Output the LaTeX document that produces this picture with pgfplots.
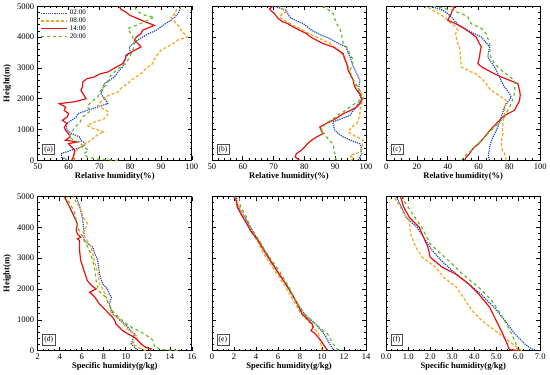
\documentclass[border=0pt]{standalone}
\usepackage{pgfplots}
\pgfplotsset{compat=1.18}
\usepgfplotslibrary{groupplots}
\usepackage{fontspec}
\setmainfont{Liberation Serif}
\definecolor{cblue}{RGB}{30,75,195}
\definecolor{corange}{RGB}{248,165,25}
\definecolor{cred}{RGB}{228,20,20}
\definecolor{cgreen}{RGB}{100,185,40}
\pgfplotsset{
  blu/.style={color=cblue, line width=1.2pt, densely dotted},
  ora/.style={color=corange, line width=1.2pt, densely dashed},
  rd/.style={color=cred, line width=1.2pt, solid},
  grn/.style={color=cgreen, line width=1.2pt, dashed},
}
\newcommand{\plabel}[1]{\node[draw=black!70, line width=0.5pt, fill=white, inner sep=1.8pt, font=\fontsize{7.5}{8}\selectfont, anchor=south west] at (rel axis cs:0.03,0.035) {#1};}
\begin{document}
\begin{tikzpicture}
\begin{groupplot}[
  group style={group size=3 by 2, horizontal sep=20pt, vertical sep=36pt, y descriptions at=edge left},
  width=153pt, height=153pt, scale only axis,
  ymin=0, ymax=5000, ytick={0,1000,...,5000}, minor y tick num=4,
  tick align=inside, major tick length=4pt, minor tick length=2pt,
  tick style={black, line width=0.6pt},
  axis line style={line width=0.8pt},
  /pgf/number format/assume math mode=true,
  /pgf/number format/set thousands separator={},
  ticklabel style={font=\fontsize{8.5}{9}\selectfont},
  label style={font=\fontsize{8.5}{9}\selectfont\bfseries},
  xlabel style={yshift=4pt},
  ylabel style={yshift=-1pt},
  ylabel={Height(m)},
]
% (a)
\nextgroupplot[xmin=50, xmax=100, xtick={50,60,...,100}, minor x tick num=4,
  xlabel={Relative humidity(\%)},
  legend style={at={(0.01,0.995)}, anchor=north west, draw=none, fill=none, font=\fontsize{7}{7}\selectfont, row sep=-2.5pt, inner sep=1pt},
  legend cell align=left,
  legend image code/.code={\draw[#1] plot coordinates {(0pt,0pt) (13pt,0pt) (26pt,0pt)};}]
\addplot[blu] coordinates {(60,0)(57.8,100)(57.6,216)(61,330)(64.5,433)(65.5,540)(64,650)(63.5,760)(61,870)(59.5,980)(59.2,1190)(61,1300)(62.5,1407)(63,1515)(66,1620)(69.5,1730)(72.7,1840)(72,1950)(70.5,2160)(71,2300)(71.6,2490)(74.9,2705)(76,2870)(77.6,3030)(78,3200)(78.6,3355)(80,3500)(79.7,3680)(81,3790)(82.4,3900)(84,4000)(86,4110)(88.4,4220)(90,4330)(91.5,4440)(93.2,4545)(94.5,4650)(95.5,4760)(96,4870)(96.5,5000)};
\addlegendentry{02:00}
\addplot[ora] coordinates {(62,0)(61.4,108)(62,216)(62.5,325)(64,432)(65.5,540)(67.3,650)(68.5,760)(70,866)(71.6,920)(68,1030)(66,1135)(68.5,1244)(71.6,1350)(72.5,1460)(73,1570)(71,1680)(69.5,1785)(70.5,1900)(71.6,2000)(73,2110)(76,2215)(77.5,2380)(79.2,2490)(81,2650)(83.5,2815)(85,2970)(87.3,3140)(88,3300)(89,3450)(90,3570)(92,3680)(94,3790)(95.4,3900)(98.6,4005)(97.5,4110)(96.5,4220)(96,4330)(95,4440)(94,4545)(93.2,4650)(94.5,4760)(95,4870)(94.8,5000)};
\addlegendentry{08:00}
\addplot[rd] coordinates {(61,0)(61.5,108)(61.8,216)(62,325)(61,433)(60,540)(63,600)(59,650)(60.5,760)(60,865)(59,975)(58.6,1080)(59.5,1190)(58,1300)(59.5,1400)(60,1515)(58.6,1620)(59,1730)(57,1840)(62,1900)(65.7,2000)(65,2110)(64,2270)(64.5,2380)(64.6,2540)(66,2650)(68.4,2705)(70,2800)(72.7,2865)(75,3000)(77.6,3140)(78.5,3300)(78.6,3410)(81,3550)(83.5,3680)(82.5,3790)(81.4,3900)(82,4000)(83.5,4110)(84,4220)(87.8,4380)(85,4490)(82.4,4600)(80,4700)(78.6,4810)(77,4900)(76.5,5000)};
\addlegendentry{14:00}
\addplot[grn] coordinates {(76,0)(70,30)(66,108)(65,216)(66.5,325)(65,432)(64,540)(62,650)(60,760)(61,870)(61.4,975)(62,1080)(63.5,1190)(64,1300)(64.6,1405)(66,1515)(67.3,1620)(66,1730)(66.8,1840)(68,1950)(69.5,2050)(70,2160)(70.5,2270)(71.5,2380)(72.7,2490)(73,2650)(74.3,2815)(76,2970)(78.6,3140)(79.5,3300)(80.3,3460)(81,3620)(81.4,3790)(80.8,4005)(80,4150)(79.2,4275)(82,4380)(84.6,4490)(86,4560)(87.8,4650)(85,4700)(83.5,4760)(82,4870)(81.4,5000)};
\addlegendentry{20:00}
\plabel{(a)}
% (b)
\nextgroupplot[xmin=50, xmax=100, xtick={50,60,...,100}, minor x tick num=4,
  xlabel={Relative humidity(\%)}]
\addplot[blu] coordinates {(97.5,0)(98,108)(98.6,216)(98.3,325)(98.5,432)(98,540)(95,650)(92.6,760)(91,866)(89.9,975)(89.5,1080)(89.3,1190)(89.3,1245)(92,1350)(94.8,1460)(95.5,1570)(96.4,1675)(97.5,1840)(98.6,1950)(98,2110)(97.5,2270)(97.8,2440)(98,2600)(97,2810)(95.9,3030)(95.3,3200)(94.8,3355)(94,3520)(93.7,3680)(91,3790)(88.3,3950)(85.5,4060)(82.3,4220)(81,4330)(79.6,4440)(77,4545)(75.2,4650)(74.6,4760)(74.1,4870)(70.3,5000)};
\addplot[ora] coordinates {(95,0)(96,54)(94.8,160)(97,216)(98.6,325)(98.8,432)(98.9,540)(99.1,650)(97,760)(95,866)(94.2,920)(95,1030)(96,1135)(97,1190)(97.5,1300)(97.8,1405)(98,1515)(98.2,1680)(98.6,1840)(99.1,2050)(98.5,2160)(97.8,2270)(97,2380)(96,2540)(95.3,2705)(94.7,2860)(94.2,3030)(93.5,3200)(93.1,3355)(91,3570)(88.3,3790)(86,3900)(83.9,4005)(81.5,4110)(79.6,4220)(77.5,4330)(75.2,4440)(73.5,4545)(71.9,4650)(73,4760)(74.1,4810)(73,4900)(71.9,5000)};
\addplot[rd] coordinates {(78.5,0)(77,108)(77.4,216)(79,325)(80.1,432)(81,540)(82.3,650)(84,760)(86,865)(85.5,975)(85,1080)(87,1190)(89.3,1300)(91,1405)(92.6,1515)(95,1620)(97,1730)(98,1840)(98.6,1950)(98.5,2050)(98,2160)(97,2270)(96.4,2380)(96,2490)(95.9,2600)(95,2760)(94.2,2920)(94,3030)(93.7,3140)(93,3300)(92.6,3460)(91,3570)(89.3,3680)(86,3790)(83.9,3900)(82,4000)(80.7,4110)(78.5,4220)(76.3,4330)(74.5,4440)(73,4490)(71.5,4600)(70.3,4760)(69,4870)(68.7,4920)(69.8,5000)};
\addplot[grn] coordinates {(90.4,0)(90,108)(89.9,216)(89.5,325)(89.5,433)(89.3,540)(88,650)(87.2,760)(86.5,866)(85,975)(86.1,1030)(86.5,1136)(87.5,1244)(88.8,1300)(90,1407)(91.5,1515)(92.6,1570)(94,1680)(96.4,1840)(98.6,2000)(98.5,2164)(98,2270)(97,2440)(95.9,2600)(95.2,2760)(94.8,2920)(95.5,3080)(95.9,3250)(95,3400)(94.2,3570)(93.5,3680)(92.6,3790)(92.3,3950)(92,4110)(91.5,4270)(90.4,4440)(89.8,4600)(89.3,4760)(88,4870)(86.1,5000)};
\plabel{(b)}
% (c)
\nextgroupplot[xmin=0, xmax=100, xtick={0,20,...,100}, minor x tick num=3,
  xlabel={Relative humidity(\%)}]
\addplot[blu] coordinates {(67.1,0)(66.5,108)(66.5,216)(67,325)(67.1,432)(67.8,540)(68.5,650)(69.3,760)(71,920)(72.5,1080)(73.5,1244)(74.7,1405)(75.8,1570)(76.8,1730)(79,1894)(81.2,2056)(80,2164)(78.5,2272)(76.8,2381)(75,2543)(73.6,2705)(72,2867)(70.3,3030)(68,3192)(66,3355)(66.5,3517)(67.1,3679)(64.5,3842)(61.7,4004)(55,4166)(48.7,4329)(45,4491)(42.2,4653)(40,4762)(36.8,4870)(32,4950)(28.1,5000)};
\addplot[ora] coordinates {(77.9,0)(77.5,108)(76.8,216)(75.5,325)(75,433)(74.7,541)(75,700)(75.8,866)(75.5,1030)(75.8,1190)(76,1350)(76.8,1515)(77,1731)(77.9,1948)(73,2110)(68.2,2272)(66,2381)(64.9,2489)(63,2597)(60.6,2705)(58,2813)(55.2,2867)(52,2950)(48.7,3030)(48.5,3192)(48.3,3355)(48,3517)(47.6,3679)(46,3842)(45.5,4004)(45,4112)(46.5,4220)(45,4329)(42.2,4437)(40,4545)(37.9,4653)(34,4762)(30.3,4870)(26,5000)};
\addplot[rd] coordinates {(50.9,0)(52,108)(54.1,216)(55.5,325)(57.4,433)(60,541)(62,650)(63.9,757)(66.5,920)(69.3,1082)(72.5,1244)(75.8,1407)(79,1515)(83.3,1623)(85,1785)(86.6,1948)(87,2110)(86.6,2272)(86,2381)(85.5,2489)(80,2600)(74.7,2705)(70,2813)(66,2922)(62,3030)(59.5,3138)(60,3246)(60.6,3355)(61,3517)(61.7,3679)(60,3842)(58.4,4004)(54,4166)(50.9,4274)(45,4437)(40,4545)(41,4653)(42.2,4762)(43,4870)(44.4,4978)(42,5000)};
\addplot[grn] coordinates {(48.7,0)(51.5,160)(55.2,325)(60,540)(63.9,757)(67,920)(70.3,1082)(73.5,1244)(76.8,1407)(79,1623)(81.2,1840)(82.3,2000)(83.3,2164)(83.5,2381)(83.3,2597)(79,2760)(74.7,2922)(72.5,3030)(70.3,3138)(68.5,3300)(67.1,3463)(67.5,3625)(67.1,3788)(66,3950)(64.9,4112)(62,4274)(55.2,4437)(54,4545)(53,4653)(49,4762)(42.2,4870)(36,4950)(30.3,5000)};
\plabel{(c)}
% (d)
\nextgroupplot[xmin=2, xmax=16, xtick={2,4,...,16}, minor x tick num=3,
  xlabel={Specific humidity(g/kg)}]
\addplot[blu] coordinates {(11.1,0)(10.8,108)(10.5,216)(10.6,325)(10.7,433)(10.8,541)(10.4,650)(10.2,757)(9.9,866)(9.5,975)(9.2,1082)(8.8,1190)(8.7,1298)(8.6,1407)(8.5,1515)(8.6,1623)(8.7,1731)(8.5,1840)(8.4,1948)(8.2,2056)(7.9,2164)(7.8,2272)(7.7,2381)(7.6,2489)(7.55,2650)(7.5,2813)(7.4,2975)(7.2,3138)(7.1,3246)(7.0,3355)(6.6,3463)(6.2,3571)(6.2,3679)(6.2,3896)(6.15,4004)(6.1,4220)(6.0,4400)(5.9,4545)(5.8,4700)(5.6,4870)(5.6,5000)};
\addplot[ora] coordinates {(11.8,0)(11.4,54)(10.9,162)(10.6,216)(10.8,325)(11.1,433)(10.8,541)(10.3,649)(10.0,757)(9.8,866)(9.6,974)(9.2,1082)(8.7,1190)(8.6,1298)(8.6,1407)(8.5,1515)(8.3,1623)(8.2,1731)(8.1,1840)(7.9,2002)(7.6,2164)(7.55,2326)(7.5,2489)(7.35,2650)(7.2,2813)(7.1,2975)(7.0,3138)(6.9,3300)(6.7,3463)(6.5,3571)(6.3,3679)(6.1,3788)(6.2,3896)(6.4,4004)(6.5,4112)(6.35,4220)(6.1,4329)(6.0,4491)(5.8,4653)(5.5,4816)(5.2,5000)};
\addplot[rd] coordinates {(12.2,0)(12.3,54)(11.8,108)(11.4,216)(11.1,325)(10.8,433)(10.2,541)(9.7,650)(9.4,757)(9.1,866)(9.0,975)(8.8,1082)(8.5,1190)(8.2,1298)(7.9,1407)(7.6,1515)(7.4,1623)(7.2,1731)(6.9,1840)(6.7,1894)(7.0,1948)(7.3,2002)(6.9,2110)(6.5,2272)(6.35,2430)(6.2,2597)(6.05,2760)(5.9,2922)(5.85,3084)(5.8,3246)(5.8,3409)(5.8,3571)(5.6,3625)(5.9,3679)(5.6,3788)(5.5,3896)(5.55,4004)(5.6,4112)(5.4,4274)(5.2,4437)(5.05,4545)(4.9,4653)(4.75,4762)(4.6,4870)(4.4,5000)};
\addplot[grn] coordinates {(14.7,0)(13.5,30)(12.6,108)(12.55,216)(12.5,325)(12.1,433)(11.7,541)(11.1,649)(10.5,757)(10.1,866)(9.7,974)(9.35,1082)(9.0,1190)(8.7,1353)(8.4,1515)(8.3,1623)(8.2,1731)(7.85,1840)(7.5,1948)(7.4,2110)(7.3,2272)(7.25,2435)(7.2,2597)(7.1,2760)(7.0,2922)(6.85,3084)(6.7,3246)(6.55,3355)(6.4,3463)(6.25,3571)(6.1,3679)(5.85,3842)(5.6,4004)(5.55,4112)(5.5,4220)(5.4,4383)(5.3,4545)(5.1,4653)(4.9,4762)(4.8,4870)(4.7,5000)};
\plabel{(d)}
% (e)
\nextgroupplot[xmin=0, xmax=14, xtick={0,2,...,14}, minor x tick num=3,
  xlabel={Specific humidity(g/kg)}]
\addplot[blu] coordinates {(11.1,0)(10.7,216)(10.2,541)(9.4,866)(8.4,1190)(7.6,1623)(6.9,2056)(5.9,2597)(5.0,3138)(4.2,3571)(3.5,4004)(3.0,4329)(2.6,4545)(2.3,4762)(2.2,5000)};
\addplot[ora] coordinates {(10.0,0)(9.9,216)(9.7,541)(9.0,866)(8.1,1190)(7.4,1623)(6.7,2056)(5.7,2597)(4.7,3138)(4.1,3571)(3.5,3896)(2.9,4329)(2.5,4653)(2.2,4870)(2.0,5000)};
\addplot[rd] coordinates {(10.5,0)(10.3,108)(9.9,325)(9.4,541)(9.0,650)(9.2,757)(9.1,866)(8.2,1190)(7.6,1623)(6.9,2056)(5.9,2597)(4.9,3138)(4.2,3571)(3.5,3896)(3.0,4220)(2.8,4329)(2.3,4653)(2.2,4870)(2.0,5000)};
\addplot[grn] coordinates {(11.5,0)(11.0,216)(10.5,540)(9.4,866)(8.4,1190)(7.6,1623)(7.0,2056)(6.1,2600)(5.0,3138)(4.3,3571)(3.5,4004)(3.0,4437)(2.6,4653)(2.5,4870)(2.5,5000)};
\plabel{(e)}
% (f)
\nextgroupplot[xmin=0, xmax=7, xtick={0,1,...,7}, minor x tick num=3,
  xticklabel style={/pgf/number format/.cd, fixed, fixed zerofill, precision=1},
  xlabel={Specific humidity(g/kg)}]
\addplot[blu] coordinates {(6.75,0)(6.5,108)(6.3,216)(5.85,541)(5.4,974)(4.9,1407)(4.3,1840)(3.75,2164)(3.0,2597)(2.5,2922)(2.1,3246)(1.8,3571)(1.4,4004)(0.9,4329)(0.7,4653)(0.45,5000)};
\addplot[ora] coordinates {(6.15,0)(5.55,325)(4.95,649)(4.35,974)(3.9,1298)(3.6,1623)(3.2,2056)(2.6,2381)(2.25,2705)(1.65,3030)(1.35,3355)(1.1,3788)(1.05,4220)(0.8,4437)(0.65,4653)(0.35,5000)};
\addplot[rd] coordinates {(6.05,0)(5.6,30)(5.5,216)(5.3,541)(5.0,974)(4.7,1407)(4.2,1840)(3.75,2164)(3.15,2489)(2.55,2705)(2.0,3030)(1.9,3355)(1.7,3679)(1.5,4004)(1.05,4329)(0.8,4653)(0.65,5000)};
\addplot[grn] coordinates {(6.0,0)(5.85,325)(5.55,757)(5.2,1190)(4.8,1623)(4.2,2056)(3.45,2489)(3.0,2813)(2.5,3138)(2.0,3463)(1.7,3896)(1.4,4220)(1.1,4545)(0.8,4870)(0.75,5000)};
\plabel{(f)}
\end{groupplot}
\end{tikzpicture}
\end{document}
